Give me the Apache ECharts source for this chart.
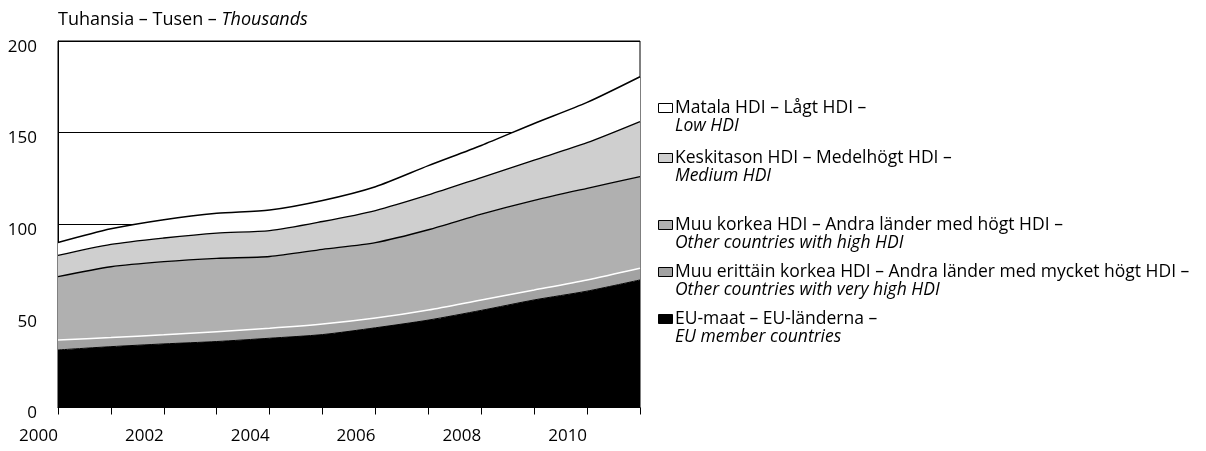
<!DOCTYPE html>
<html>
<head>
<meta charset="utf-8">
<script src="https://cdn.jsdelivr.net/npm/echarts@6/dist/echarts.min.js"></script>
<style>
html,body{margin:0;padding:0;background:#fff;}
#chart{width:1206px;height:451px;}
</style>
</head>
<body>
<div id="chart"></div>
<script>
// ---- data (thousands) ----
const years = ['2000','2001','2002','2003','2004','2005','2006','2007','2008','2009','2010','2011'];
const euMembers   = [31.4, 33.2, 34.7, 36.0, 37.8, 39.8, 43.5, 47.7, 53.0, 58.7, 63.5, 69.6];
const veryHighHdi = [5.4, 5.0, 5.0, 5.4, 5.4, 5.7, 5.3, 5.5, 5.7, 5.4, 6.1, 6.4];
const highHdi     = [34.6, 38.6, 39.9, 40.0, 39.2, 40.8, 41.2, 43.8, 46.8, 48.9, 50.0, 50.0];
const mediumHdi   = [11.6, 12.2, 12.9, 13.8, 14.1, 15.2, 17.5, 19.0, 20.0, 22.0, 24.9, 30.0];
const lowHdi      = [7.0, 8.5, 10.0, 10.8, 11.3, 11.5, 13.0, 16.0, 17.5, 20.0, 22.0, 24.5];
const yTicks = [0, 50, 100, 150, 200];
const unitTitle = ['Tuhansia – Tusen – ', 'Thousands'];
const legendMain = [
  'Matala HDI – Lågt HDI –',
  'Keskitason HDI – Medelhögt HDI –',
  'Muu korkea HDI – Andra länder med högt HDI –',
  'Muu erittäin korkea HDI – Andra länder med mycket högt HDI –',
  'EU-maat – EU-länderna –'
];
const legendEn = [
  'Low HDI',
  'Medium HDI',
  'Other countries with high HDI',
  'Other countries with very high HDI',
  'EU member countries'
];

// ---- styles ----
const FONT = 'Open Sans';
const colors = {
  low: '#ffffff',
  medium: '#cfcfcf',
  high: '#b0b0b0',
  veryHigh: '#a2a2a2',
  eu: '#000000'
};
const legendColors = [colors.low, colors.medium, colors.high, colors.veryHigh, colors.eu];
const legendY = [108, 158, 225, 272, 319];

const chart = echarts.init(document.getElementById('chart'), null, {renderer: 'canvas'});

function areaSeries(name, data, fill, lineColor, lineWidth) {
  return {
    name: name,
    type: 'line',
    stack: 'total',
    data: data,
    symbol: 'none',
    smooth: 0.25,
    lineStyle: {color: lineColor, width: lineWidth},
    areaStyle: {color: fill, opacity: 1},
    itemStyle: {color: fill},
    emphasis: {disabled: true},
    animation: false
  };
}

const graphics = [];
graphics.push({
  type: 'text',
  x: 58, y: 20,
  style: {
    text: '{n|' + unitTitle[0] + '}{i|' + unitTitle[1] + '}',
    verticalAlign: 'middle',
    rich: {
      n: {fontFamily: FONT, fontSize: 18, fill: '#000'},
      i: {fontFamily: FONT, fontSize: 18, fontStyle: 'italic', fill: '#000'}
    }
  }
});
for (let i = 0; i < legendMain.length; i++) {
  graphics.push({
    type: 'rect',
    shape: {x: 658.5, y: legendY[i] - 4.5, width: 14, height: 9},
    style: {fill: legendColors[i], stroke: '#000', lineWidth: 1}
  });
  graphics.push({
    type: 'text',
    x: 675, y: legendY[i],
    style: {text: legendMain[i], fontFamily: FONT, fontSize: 17.5, fill: '#000', verticalAlign: 'middle'}
  });
  graphics.push({
    type: 'text',
    x: 675, y: legendY[i] + 18,
    style: {text: legendEn[i], fontFamily: FONT, fontSize: 17.5, fontStyle: 'italic', fill: '#000', verticalAlign: 'middle'}
  });
}

chart.setOption({
  animation: false,
  backgroundColor: '#ffffff',
  grid: {
    left: 58, right: 566, top: 41, bottom: 43.5,
    show: true, borderColor: '#000', borderWidth: 1, backgroundColor: 'transparent'
  },
  xAxis: {
    type: 'category',
    data: years,
    boundaryGap: false,
    axisLine: {show: true, lineStyle: {color: '#000', width: 1}},
    axisTick: {show: true, interval: 0, length: 7, lineStyle: {color: '#000'}},
    axisLabel: {interval: 1, color: '#000', fontFamily: FONT, fontSize: 17, margin: 20, align: 'right'},
    splitLine: {show: false}
  },
  yAxis: {
    type: 'value',
    min: yTicks[0], max: yTicks[yTicks.length - 1], interval: yTicks[1] - yTicks[0],
    axisLine: {show: true, lineStyle: {color: '#000', width: 1}},
    axisTick: {show: false},
    axisLabel: {color: '#000', fontFamily: FONT, fontSize: 17, margin: 21, verticalAlign: 'top', lineHeight: 12},
    splitLine: {show: true, lineStyle: {color: '#000', width: 1}}
  },
  series: [
    areaSeries('EU', euMembers, colors.eu, '#000', 1),
    areaSeries('VeryHigh', veryHighHdi, colors.veryHigh, '#ffffff', 1.5),
    areaSeries('High', highHdi, colors.high, '#000', 1.3),
    areaSeries('Medium', mediumHdi, colors.medium, '#000', 1.3),
    areaSeries('Low', lowHdi, colors.low, '#000', 1.5)
  ],
  graphic: graphics
});
</script>
</body>
</html>
